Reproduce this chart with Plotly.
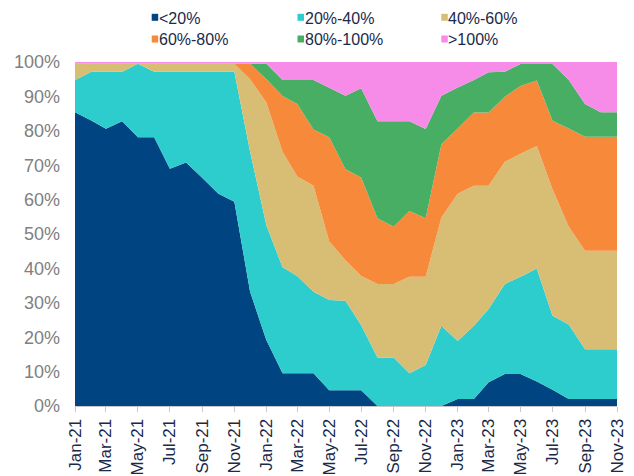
import plotly.graph_objects as go

months = ["2021-01-01", "2021-02-01", "2021-03-01", "2021-04-01", "2021-05-01", "2021-06-01",
          "2021-07-01", "2021-08-01", "2021-09-01", "2021-10-01", "2021-11-01", "2021-12-01",
          "2022-01-01", "2022-02-01", "2022-03-01", "2022-04-01", "2022-05-01", "2022-06-01",
          "2022-07-01", "2022-08-01", "2022-09-01", "2022-10-01", "2022-11-01", "2022-12-01",
          "2023-01-01", "2023-02-01", "2023-03-01", "2023-04-01", "2023-05-01", "2023-06-01",
          "2023-07-01", "2023-08-01", "2023-09-01", "2023-10-01", "2023-11-01"]

lt20 = [85.4, 83.0, 80.6, 82.8, 78.1, 78.1, 69.0, 70.8, 66.3, 61.8, 59.4, 33.2,
        19.2, 9.5, 9.5, 9.5, 4.6, 4.6, 4.6, 0.0, 0.0, 0.0, 0.0, 0.0,
        2.0, 2.0, 6.9, 9.3, 9.3, 7.1, 4.7, 2.0, 2.0, 2.0, 2.0]
p20_40 = [9.4, 14.2, 16.6, 14.4, 21.4, 19.1, 28.2, 26.4, 30.9, 35.4, 37.8, 40.8,
          33.4, 30.8, 28.3, 23.7, 26.2, 26.0, 18.9, 14.1, 14.1, 9.5, 11.9, 23.3,
          16.9, 21.3, 21.3, 26.2, 28.3, 32.9, 21.5, 21.7, 14.5, 14.5, 14.5]
p40_60 = [4.7, 2.3, 2.3, 2.3, 0.0, 2.3, 2.3, 2.3, 2.3, 2.3, 2.3, 21.0,
          35.6, 33.6, 28.9, 30.8, 17.0, 11.8, 14.3, 21.4, 21.4, 28.1, 25.7, 31.5,
          42.8, 40.7, 35.8, 35.5, 35.7, 35.6, 36.8, 28.4, 28.6, 28.6, 28.6]
p60_80 = [0.0, 0.0, 0.0, 0.0, 0.0, 0.0, 0.0, 0.0, 0.0, 0.0, 0.0, 4.5,
          6.8, 16.2, 21.1, 16.4, 30.3, 26.4, 28.6, 19.1, 16.6, 19.1, 17.0, 21.3,
          19.0, 21.3, 21.3, 18.9, 19.7, 19.0, 19.9, 28.6, 33.2, 33.2, 33.2]
p80_100 = [0.0, 0.0, 0.0, 0.0, 0.0, 0.0, 0.0, 0.0, 0.0, 0.0, 0.0, 0.0,
           4.5, 4.7, 7.0, 14.4, 14.4, 21.4, 26.0, 28.2, 30.7, 26.1, 25.9, 14.1,
           11.9, 9.5, 11.7, 7.3, 6.4, 4.8, 16.5, 14.1, 9.5, 7.1, 7.1]
gt100 = [0.5, 0.5, 0.5, 0.5, 0.5, 0.5, 0.5, 0.5, 0.5, 0.5, 0.5, 0.5,
         0.5, 5.2, 5.2, 5.2, 7.5, 9.8, 7.6, 17.2, 17.2, 17.2, 19.5, 9.8,
         7.4, 5.2, 3.0, 2.8, 0.6, 0.6, 0.6, 5.2, 12.2, 14.6, 14.6]

series_names = ["<20%", "20%-40%", "40%-60%", "60%-80%", "80%-100%", ">100%"]
series_values = [lt20, p20_40, p40_60, p60_80, p80_100, gt100]
colors = ["#004481", "#2DCCCD", "#D8BE75", "#F7893B", "#48AE64", "#F78BE8"]

tick_vals = months[::2]
tick_text = ["Jan-21", "Mar-21", "May-21", "Jul-21", "Sep-21", "Nov-21",
             "Jan-22", "Mar-22", "May-22", "Jul-22", "Sep-22", "Nov-22",
             "Jan-23", "Mar-23", "May-23", "Jul-23", "Sep-23", "Nov-23"]

FONT = "Liberation Sans, Arial, sans-serif"
NAVY = "#1B2A4A"

fig = go.Figure()
for name, vals, col in zip(series_names, series_values, colors):
    fig.add_trace(go.Scatter(
        x=months, y=vals, name=name, mode="none", stackgroup="one",
        fillcolor=col, line=dict(width=0), showlegend=False))

# page has an 8px body margin; figure is sized/offset to compensate
OFF = 8
W, H = 626, 468
L, R, T, B = 67, 17, 54, 70
pw, ph = W - L - R, H - T - B

def px_x(px):
    return (px - OFF - L) / pw

def px_y(py):
    return (H - B - (py - OFF)) / ph

shapes = []
annotations = []
col_x = [151.7, 297.5, 441.3]
row_y = [17.3, 39.0]
for k, (name, col) in enumerate(zip(series_names, colors)):
    r, c = divmod(k, 3)
    x0 = col_x[c]
    yc = row_y[r]
    shapes.append(dict(type="rect", xref="paper", yref="paper",
                       x0=px_x(x0), x1=px_x(x0 + 6.5),
                       y0=px_y(yc + 3.5), y1=px_y(yc - 3.5),
                       fillcolor=col, line=dict(width=0)))
    annotations.append(dict(xref="paper", yref="paper", x=px_x(x0 + 6.0), y=px_y(yc + 0.7),
                            xanchor="left", yanchor="middle", showarrow=False,
                            text=name, font=dict(family=FONT, size=16, color=NAVY),
                            borderpad=0))

fig.update_layout(
    width=W, height=H,
    margin=dict(l=L, r=R, t=T, b=B, pad=0, autoexpand=False),
    paper_bgcolor="white", plot_bgcolor="white",
    showlegend=False,
    shapes=shapes, annotations=annotations,
    font=dict(family=FONT),
)
fig.update_xaxes(
    type="date", range=[months[0], months[-1]],
    tickvals=tick_vals, ticktext=tick_text, tickangle=-90,
    tickfont=dict(family=FONT, size=17, color=NAVY),
    showgrid=False, zeroline=False, automargin=False,
    showline=True, linecolor="#C8C8C8", linewidth=1,
    ticks="outside", ticklen=5, tickcolor="#C8C8C8",
)
fig.update_yaxes(
    range=[0, 100], dtick=10, ticksuffix="%",
    tickfont=dict(family=FONT, size=18, color="#808080"),
    showgrid=False, zeroline=False, showline=False, automargin=False,
    ticklabelstandoff=14,
)

fig.write_html("out.html")
